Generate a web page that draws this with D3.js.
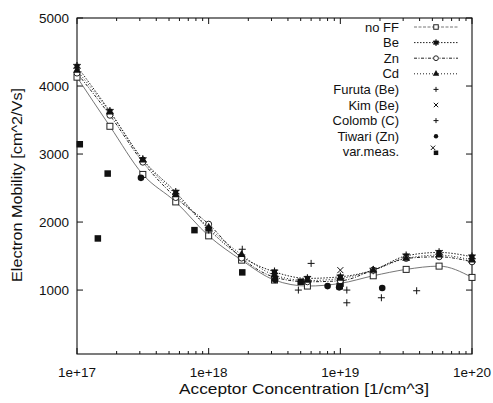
<!DOCTYPE html>
<html><head><meta charset="utf-8">
<script src="https://cdn.jsdelivr.net/npm/d3@7"></script>
<style>body{margin:0;background:#fff}svg{display:block}</style>
</head><body>
<svg id="c" width="493" height="403"></svg>
<script>
// ---- data ----
const conc = [1e17, 1.778e17, 3.162e17, 5.623e17, 1e18, 1.778e18, 3.162e18, 5.623e18, 1e19, 1.778e19, 3.162e19, 5.623e19, 1e20];
const noFF = [4130, 3408, 2700, 2296, 1797, 1440, 1147, 1059, 1098, 1210, 1304, 1352, 1186];
const be   = [4290, 3628, 2919, 2439, 1895, 1490, 1268, 1172, 1195, 1293, 1503, 1553, 1489];
const zn   = [4190, 3570, 2880, 2360, 1969, 1470, 1190, 1122, 1136, 1293, 1465, 1489, 1415];
const cd   = [4230, 3614, 2910, 2400, 1920, 1520, 1220, 1140, 1170, 1293, 1465, 1514, 1440];
const furuta = [[1.8e18, 1600], [4.8e18, 1000], [6.0e18, 1392], [1.12e19, 1000]];
const kim    = [[1e19, 1293]];
const colomb = [[1.12e19, 813], [2.05e19, 887], [3.8e19, 990]];
const tiwari = [[3.06e17, 2650], [3.2e18, 1150], [8.0e18, 1058], [9.8e18, 1040], [2.08e19, 1030]];
const varMeas = [[1.05e17, 3144], [1.44e17, 1759], [1.71e17, 2713], [7.8e17, 1881], [1.8e18, 1260], [5.0e18, 1122], [9.9e18, 1055]];
const xTickLabels = ["1e+17", "1e+18", "1e+19", "1e+20"];
const yTickValues = [1000, 2000, 3000, 4000, 5000];
const legendLabels = ["no FF", "Be", "Zn", "Cd", "Furuta (Be)", "Kim (Be)", "Colomb (C)", "Tiwari (Zn)", "var.meas."];
const xTitle = "Acceptor Concentration [1/cm^3]";
const yTitle = "Electron Mobility [cm^2/Vs]";

// ---- layout ----
const L = 77, R = 472, T = 18, B = 354;
const svg = d3.select("#c");
const FONT = "Liberation Sans, Arial, Helvetica, sans-serif";
const x = d3.scaleLog().domain([1e17, 1e20]).range([L, R]);
const y = d3.scaleLinear().domain([60, 5000]).range([B, T]);

// frame
svg.append("rect").attr("x", L).attr("y", T).attr("width", R - L).attr("height", B - T)
  .attr("fill", "none").attr("stroke", "#111").attr("stroke-width", 1.1);

// x ticks (major + minor, mirrored)
const tg = svg.append("g").attr("stroke", "#111").attr("stroke-width", 1);
x.ticks().forEach(v => {
  const e = Math.log10(v), major = Math.abs(e - Math.round(e)) < 1e-9;
  const len = major ? 6 : 3, px = x(v);
  tg.append("line").attr("x1", px).attr("x2", px).attr("y1", B).attr("y2", B - len);
  tg.append("line").attr("x1", px).attr("x2", px).attr("y1", T).attr("y2", T + len);
});
yTickValues.forEach(v => {
  const py = y(v);
  tg.append("line").attr("x1", L).attr("x2", L + 6).attr("y1", py).attr("y2", py);
  tg.append("line").attr("x1", R).attr("x2", R - 6).attr("y1", py).attr("y2", py);
});

// tick labels
const xMajor = x.ticks().filter(v => Math.abs(Math.log10(v) - Math.round(Math.log10(v))) < 1e-9);
xMajor.forEach((v, i) => {
  svg.append("text").attr("x", x(v)).attr("y", B + 23).attr("text-anchor", "middle")
    .attr("font-family", FONT).attr("font-size", 13.5).attr("fill", "#111").text(xTickLabels[i]);
});
yTickValues.forEach(v => {
  svg.append("text").attr("x", L - 8).attr("y", y(v) + 5).attr("text-anchor", "end")
    .attr("font-family", FONT).attr("font-size", 13.5).attr("fill", "#111").text(v);
});

// titles
svg.append("text").attr("x", 304).attr("y", 394).attr("text-anchor", "middle")
  .attr("font-family", FONT).attr("font-size", 14.5).attr("fill", "#111")
  .attr("textLength", 250).attr("lengthAdjust", "spacingAndGlyphs").text(xTitle);
svg.append("text").attr("transform", "translate(21.5,185) rotate(-90)").attr("text-anchor", "middle")
  .attr("font-family", FONT).attr("font-size", 14).attr("fill", "#111")
  .attr("textLength", 194).attr("lengthAdjust", "spacingAndGlyphs").text(yTitle);

// ---- marker painters ----
function mSquareOpen(g, cx, cy, s) { g.append("rect").attr("x", cx - s/2).attr("y", cy - s/2).attr("width", s).attr("height", s).attr("fill", "#fff").attr("stroke", "#222").attr("stroke-width", 1); }
function mSquareFill(g, cx, cy, s) { g.append("rect").attr("x", cx - s/2).attr("y", cy - s/2).attr("width", s).attr("height", s).attr("fill", "#111"); }
function mCircleOpen(g, cx, cy, r) { g.append("circle").attr("cx", cx).attr("cy", cy).attr("r", r).attr("fill", "#fff").attr("stroke", "#222").attr("stroke-width", 1); }
function mCircleFill(g, cx, cy, r) { g.append("circle").attr("cx", cx).attr("cy", cy).attr("r", r).attr("fill", "#111"); }
function mBe(g, cx, cy, k = 1) {
  mSquareFill(g, cx, cy, 5 * k);
  g.append("path").attr("transform", `translate(${cx},${cy})`).attr("d", d3.symbol(d3.symbolAsterisk, 50 * k * k)()).attr("stroke", "#111").attr("stroke-width", 1.1).attr("fill", "none");
}
function mTri(g, cx, cy, k = 1) { g.append("path").attr("transform", `translate(${cx},${cy})`).attr("d", d3.symbol(d3.symbolTriangle, 28 * k * k)()).attr("fill", "#111"); }
function mPlus(g, cx, cy, h = 3.5) { g.append("path").attr("transform", `translate(${cx},${cy})`).attr("d", `M${-h},0H${h}M0,${-h}V${h}`).attr("stroke", "#111").attr("stroke-width", 1); }
function mTimes(g, cx, cy, h = 3) { g.append("path").attr("transform", `translate(${cx},${cy})`).attr("d", `M${-h},${-h}L${h},${h}M${-h},${h}L${h},${-h}`).attr("stroke", "#111").attr("stroke-width", 1); }

// ---- model series ----
const series = [
  {vals: noFF, stroke: "#666", dash: null, w: 0.9, mk: (g, a, b) => mSquareOpen(g, a, b, 6)},
  {vals: be, stroke: "#222", dash: "1.5,1.5", w: 1, mk: (g, a, b) => mBe(g, a, b)},
  {vals: zn, stroke: "#222", dash: "3,1.5,1,1.5", w: 1, mk: (g, a, b) => mCircleOpen(g, a, b, 3)},
  {vals: cd, stroke: "#222", dash: "1,2", w: 1, mk: (g, a, b) => mTri(g, a, b)}
];
const line = d3.line().x(d => x(d[0])).y(d => y(d[1])).curve(d3.curveMonotoneX);
const lg = svg.append("g"), mg = svg.append("g");
series.forEach(s => {
  const pts = conc.map((c, i) => [c, s.vals[i]]);
  lg.append("path").attr("d", line(pts)).attr("fill", "none").attr("stroke", s.stroke)
    .attr("stroke-width", s.w).attr("stroke-dasharray", s.dash);
});
series.forEach(s => conc.forEach((c, i) => s.mk(mg, x(c), y(s.vals[i]))));

// ---- measurements ----
furuta.forEach(d => mPlus(mg, x(d[0]), y(d[1])));
colomb.forEach(d => mPlus(mg, x(d[0]), y(d[1])));
kim.forEach(d => mTimes(mg, x(d[0]), y(d[1])));
tiwari.forEach(d => mCircleFill(mg, x(d[0]), y(d[1]), 3.3));
varMeas.forEach(d => mSquareFill(mg, x(d[0]), y(d[1]), 6.5));

// ---- legend ----
const leg = svg.append("g");
const ly0 = 27, ldy = 15.6, ltx = 399, lx1 = 414, lx2 = 458, lmx = 436;
const legMk = [
  (g, a, b) => mSquareOpen(g, a, b, 4.5), (g, a, b) => mBe(g, a, b, 0.8), (g, a, b) => mCircleOpen(g, a, b, 2.4), (g, a, b) => mTri(g, a, b, 0.8),
  (g, a, b) => mPlus(g, a, b, 2.5), (g, a, b) => mTimes(g, a, b, 2.2), (g, a, b) => mPlus(g, a, b, 2.5), (g, a, b) => mCircleFill(g, a, b, 2.2),
  (g, a, b) => { mTimes(g, a - 3, b - 4, 2.2); mSquareFill(g, a, b + 1, 4.5); }
];
legendLabels.forEach((lab, i) => {
  const cy = ly0 + i * ldy;
  leg.append("text").attr("x", ltx).attr("y", cy + 4.5).attr("text-anchor", "end")
    .attr("font-family", FONT).attr("font-size", 13).attr("fill", "#111").text(lab);
  if (i < 4) {
    const s = series[i];
    leg.append("line").attr("x1", lx1).attr("x2", lx2).attr("y1", cy).attr("y2", cy)
      .attr("stroke", s.stroke).attr("stroke-width", s.w).attr("stroke-dasharray", s.dash || "3,1.5");
  }
  legMk[i](leg, lmx, cy);
});
</script>
</body></html>
